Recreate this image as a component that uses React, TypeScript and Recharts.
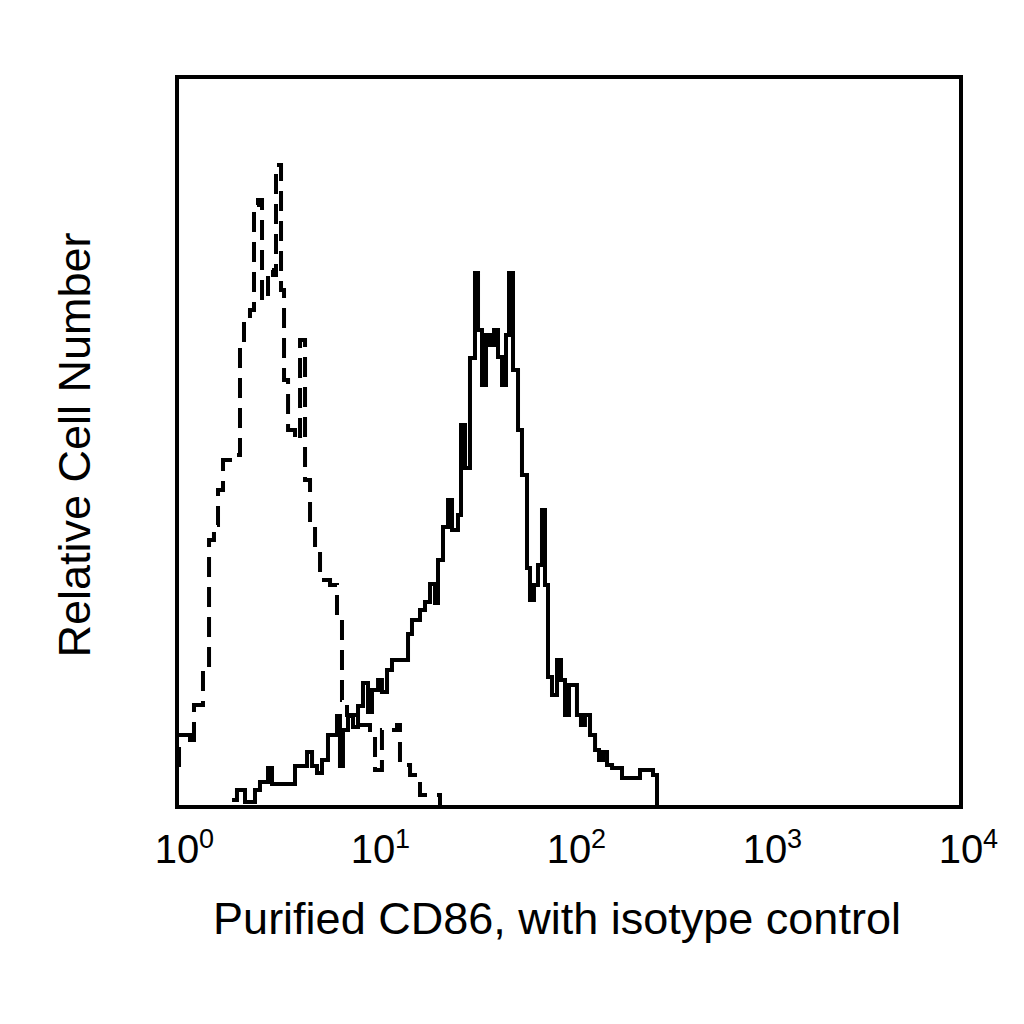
import { LineChart, Line, XAxis, YAxis, ReferenceArea } from 'recharts';

// fluorescence channel values (log axis) and relative counts
const isoX = [1.0, 1.024, 1.165, 1.221, 1.357, 1.457, 1.544, 1.619, 1.717, 1.864, 2.096, 2.197, 2.357, 2.471, 2.59, 2.715, 2.913, 3.089, 3.2, 3.394, 3.516, 3.686, 4.0, 4.243, 4.5, 4.772, 5.061, 5.367, 6.036, 6.551, 6.947, 7.368, 8.093, 9.654, 10.24, 11.11, 13.26, 13.73, 15.45, 17.37, 21.21, 21.97];
const isoY = [42, 72, 62, 102, 137, 267, 282, 317, 347, 352, 462, 487, 497, 602, 607, 507, 537, 532, 642, 517, 427, 377, 367, 467, 327, 287, 257, 227, 222, 187, 107, 92, 82, 77, 37, 77, 82, 42, 32, 12, 12, 0];

const cd86X = [1.909, 2.023, 2.223, 2.5, 2.651, 2.913, 3.053, 4.0, 4.607, 4.886, 5.18, 5.493, 5.893, 6.551, 6.785, 7.028, 7.455, 7.907, 8.386, 8.894, 9.43, 9.883, 10.61, 11.11, 11.79, 12.5, 15.09, 15.81, 17.37, 18.42, 19.54, 20.72, 21.46, 22.76, 24.14, 25.3, 27.14, 28.12, 29.47, 31.25, 33.14, 34.34, 35.98, 37.72, 39.54, 41.44, 43.43, 45.52, 47.71, 49.42, 51.8, 54.94, 57.56, 61.06, 63.24, 66.28, 69.47, 72.81, 75.43, 78.14, 81.89, 86.86, 91.03, 95.41, 100, 104.8, 109.8, 115.1, 120.6, 128.0, 135.8, 142.3, 149.1, 156.3, 165.8, 186.4, 230.3, 250.0, 268.3, 281.2];
const cd86Y = [7, 17, 5, 17, 25, 39, 23, 41, 55, 41, 34, 47, 72, 91, 41, 77, 91, 80, 101, 124, 95, 117, 127, 115, 137, 147, 173, 187, 197, 205, 223, 204, 247, 280, 307, 277, 292, 382, 339, 449, 534, 477, 422, 472, 462, 477, 450, 422, 472, 534, 437, 377, 332, 239, 207, 222, 242, 297, 222, 130, 112, 147, 127, 92, 122, 122, 92, 82, 92, 72, 57, 47, 55, 42, 39, 29, 37, 37, 32, 0];

const xTicks = [1, 10, 100, 1000, 10000];
const xExponents = ['0', '1', '2', '3', '4'];

const isoData = isoX.map((x, i) => ({ x, y: isoY[i] }));
const cd86Data = cd86X.map((x, i) => ({ x, y: cd86Y[i] }));

const FONT = '"Liberation Sans", Arial, Helvetica, sans-serif';

const PowerTick = (props: any) => {
    const { x, payload } = props;
    const idx = xTicks.indexOf(payload.value);
    return (
        <g>
            <text x={x} y={863} textAnchor="middle" fontSize={40} fontFamily={FONT} fill="#000">10</text>
            <text x={x + 22} y={848} textAnchor="start" fontSize={27} fontFamily={FONT} fill="#000">{xExponents[idx]}</text>
        </g>
    );
};

export default function App() {
    return (
        <div style={{ position: 'absolute', left: 0, top: 0, width: 1024, height: 1024, background: '#fff' }}>
            <LineChart width={1024} height={1024} margin={{ top: 77, right: 63, left: 177, bottom: 157 }}>
                <XAxis
                    dataKey="x"
                    type="number"
                    scale="log"
                    domain={[1, 10000]}
                    ticks={xTicks}
                    allowDataOverflow
                    height={60}
                    axisLine={false}
                    tickLine={false}
                    tick={<PowerTick />}
                    interval={0}
                />
                <YAxis type="number" domain={[0, 730]} width={0} hide />
                <Line
                    data={isoData}
                    dataKey="y"
                    type="stepAfter"
                    stroke="#000"
                    strokeWidth={4}
                    strokeDasharray="20 10"
                    dot={false}
                    isAnimationActive={false}
                />
                <Line
                    data={cd86Data}
                    dataKey="y"
                    type="stepAfter"
                    stroke="#000"
                    strokeWidth={4}
                    dot={false}
                    isAnimationActive={false}
                />
                <ReferenceArea
                    x1={1}
                    x2={10000}
                    y1={0}
                    y2={730}
                    fill="none"
                    stroke="#000"
                    strokeWidth={4}
                    ifOverflow="visible"
                />
                <text x={557} y={934} textAnchor="middle" fontSize={45} fontFamily={FONT} fill="#000">
                    Purified CD86, with isotype control
                </text>
                <text x={90} y={445} textAnchor="middle" fontSize={45} fontFamily={FONT} fill="#000" transform="rotate(-90 90 445)">
                    Relative Cell Number
                </text>
            </LineChart>
        </div>
    );
}
